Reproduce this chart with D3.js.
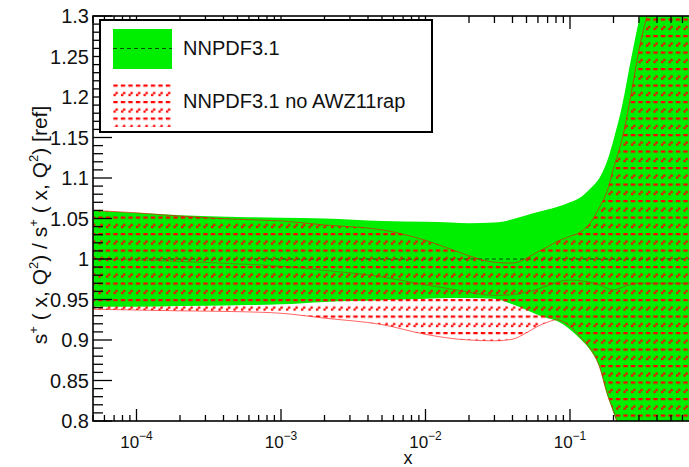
<!DOCTYPE html>
<html><head><meta charset="utf-8">
<script src="https://cdn.jsdelivr.net/npm/d3@7"></script>
<style>
html,body{margin:0;padding:0;background:#fff;}
svg{display:block;font-family:"Liberation Sans",Arial,Helvetica,sans-serif;}
</style></head>
<body>
<svg id="chart" width="689" height="467"></svg>
<script>
// ---- data ----
const xGrid = [5e-5, 1e-4, 2e-4, 5e-4, 1e-3, 2e-3, 5e-3, 1e-2, 1.5e-2, 2e-2, 3e-2, 4e-2, 5e-2, 6e-2, 7e-2, 8e-2, 1e-1, 1.2e-1, 1.4e-1, 1.6e-1, 1.8e-1, 2e-1, 2.3e-1, 2.6e-1, 3e-1, 4e-1, 6e-1, 1];
const greenUpper = [1.060, 1.057, 1.054, 1.052, 1.051, 1.050, 1.047, 1.046, 1.045, 1.044, 1.045, 1.049, 1.054, 1.058, 1.061, 1.064, 1.070, 1.077, 1.088, 1.100, 1.120, 1.147, 1.190, 1.240, 1.295, 1.40, 1.60, 2.00];
const greenLower = [0.941, 0.941, 0.942, 0.943, 0.944, 0.947, 0.949, 0.951, 0.952, 0.952, 0.951, 0.944, 0.937, 0.931, 0.927, 0.924, 0.913, 0.900, 0.886, 0.866, 0.833, 0.810, 0.775, 0.740, 0.70, 0.60, 0.40, 0.20];
const redUpper = [1.060, 1.057, 1.053, 1.049, 1.047, 1.042, 1.036, 1.023, 1.012, 1.004, 0.996, 0.995, 1.001, 1.009, 1.015, 1.021, 1.028, 1.034, 1.046, 1.064, 1.083, 1.112, 1.149, 1.196, 1.258, 1.35, 1.55, 1.90];
const redLower = [0.938, 0.937, 0.936, 0.935, 0.933, 0.927, 0.919, 0.907, 0.902, 0.900, 0.899, 0.901, 0.909, 0.917, 0.922, 0.925, 0.917, 0.902, 0.888, 0.867, 0.835, 0.812, 0.777, 0.73, 0.68, 0.58, 0.35, 0.10];
const redCentral = [1.000, 0.999, 0.997, 0.994, 0.991, 0.986, 0.978, 0.968, 0.963, 0.959, 0.955, 0.956, 0.959, 0.963, 0.967, 0.971, 0.974, 0.973, 0.971, 0.968, 0.964, 0.962, 0.965, 0.968, 0.970, 0.970, 0.970, 0.970];
const greenCentral = xGrid.map(() => 1.0);
const yTickLabels = ["0.8","0.85","0.9","0.95","1","1.05","1.1","1.15","1.2","1.25","1.3"];
const xTickExps = [-4, -3, -2, -1];
const legendLabels = ["NNPDF3.1", "NNPDF3.1 no AWZ11rap"];

// ---- layout ----
const svg = d3.select("#chart");
const L = 93, R = 714.5, T = 16, B = 421;
const x = d3.scaleLog().domain([5e-5, 1]).range([L, R]);
const y = d3.scaleLinear().domain([0.8, 1.3]).range([B, T]);
const GREEN = "#00ee00", RED = "#ff0000";

const defs = svg.append("defs");
defs.append("clipPath").attr("id","plotclip").append("rect")
  .attr("x", L).attr("y", T).attr("width", R - L).attr("height", B - T);
const pat = defs.append("pattern").attr("id","hatch").attr("patternUnits","userSpaceOnUse")
  .attr("width", 7.5).attr("height", 16.5).attr("x", 0).attr("y", 2);
pat.append("rect").attr("x",0.8).attr("y",0).attr("width",4.4).attr("height",2.2).attr("fill",RED);
pat.append("rect").attr("x",1.0).attr("y",9.4).attr("width",2.3).attr("height",2.3).attr("fill",RED);
pat.append("rect").attr("x",3.0).attr("y",7.4).attr("width",2.3).attr("height",2.3).attr("fill",RED);

const pts = (lo, hi) => xGrid.map((xv, i) => ({x: xv, lo: lo[i], hi: hi[i]}));
const area = d3.area().x(d => x(d.x)).y0(d => y(d.lo)).y1(d => y(d.hi)).curve(d3.curveMonotoneX);
const line = acc => d3.line().x(d => x(d.x)).y(d => y(acc(d))).curve(d3.curveMonotoneX);

const g = svg.append("g").attr("clip-path","url(#plotclip)");
const greenPts = pts(greenLower, greenUpper);
const redPts = pts(redLower, redUpper);

g.append("path").datum(greenPts).attr("d", area).attr("fill", GREEN);
g.append("path").datum(xGrid.map((xv,i)=>({x:xv, v:greenCentral[i]})))
  .attr("d", line(d=>d.v)).attr("fill","none").attr("stroke","#005000").attr("stroke-width",1.2).attr("stroke-dasharray","4,3");
g.append("path").datum(redPts).attr("d", area).attr("fill", "url(#hatch)");
g.append("path").datum(redPts).attr("d", line(d=>d.hi)).attr("fill","none").attr("stroke",RED).attr("stroke-width",1).attr("stroke-opacity",0.6);
g.append("path").datum(redPts).attr("d", line(d=>d.lo)).attr("fill","none").attr("stroke",RED).attr("stroke-width",1).attr("stroke-opacity",0.6);
g.append("path").datum(xGrid.map((xv,i)=>({x:xv, v:redCentral[i]})))
  .attr("d", line(d=>d.v)).attr("fill","none").attr("stroke","#b03010").attr("stroke-width",1).attr("stroke-opacity",0.5);

// ---- axes / frame ----
const ax = svg.append("g").attr("stroke","#000").attr("fill","none");
ax.append("rect").attr("x",L).attr("y",T).attr("width",R-L).attr("height",B-T).attr("stroke-width",1.6);

const yMinor = d3.range(80, 131, 1).map(v => v / 100);
yMinor.forEach(v => {
  const major = Math.round(v * 100) % 5 === 0;
  const len = major ? 19 : 10;
  ax.append("line").attr("x1",L).attr("x2",L+len).attr("y1",y(v)).attr("y2",y(v)).attr("stroke-width",1.3);
  ax.append("line").attr("x1",R).attr("x2",R-len).attr("y1",y(v)).attr("y2",y(v)).attr("stroke-width",1.3);
});
const xTicksAll = [];
for (let e = -5; e <= 0; e++) for (let m = 1; m <= 9; m++) {
  const v = m * Math.pow(10, e);
  if (v >= 5e-5 * 0.999 && v <= 1.0001) xTicksAll.push({v, major: m === 1});
}
xTicksAll.forEach(t => {
  const len = t.major ? 12 : 6;
  ax.append("line").attr("x1",x(t.v)).attr("x2",x(t.v)).attr("y1",B).attr("y2",B-len).attr("stroke-width",1.3);
  ax.append("line").attr("x1",x(t.v)).attr("x2",x(t.v)).attr("y1",T).attr("y2",T+(t.major?13:7)).attr("stroke-width",1.3);
});

const tl = svg.append("g").attr("fill","#111").attr("font-size",20);
yTickLabels.forEach(s => {
  tl.append("text").attr("x",89).attr("y",y(+s)).attr("dy","0.36em").attr("text-anchor","end").text(s);
});
xTickExps.forEach(e => {
  const t = tl.append("text").attr("x", x(Math.pow(10,e))).attr("y",448).attr("text-anchor","middle").attr("font-size",17);
  t.append("tspan").text("10");
  t.append("tspan").attr("font-size",12).attr("dy",-8).text("\u2212" + Math.abs(e));
});
tl.append("text").attr("x",408).attr("y",464).attr("text-anchor","middle").attr("font-size",18).text("x");
const yt = tl.append("text").attr("transform","translate(47,225) rotate(-90)").attr("text-anchor","middle").attr("font-size",21);
yt.append("tspan").text("s");
yt.append("tspan").attr("font-size",13).attr("dy",-9).text("+");
yt.append("tspan").attr("dy",9).text(" ( x, Q");
yt.append("tspan").attr("font-size",13).attr("dy",-9).text("2");
yt.append("tspan").attr("dy",9).text(") / s");
yt.append("tspan").attr("font-size",13).attr("dy",-9).text("+");
yt.append("tspan").attr("dy",9).text(" ( x, Q");
yt.append("tspan").attr("font-size",13).attr("dy",-9).text("2");
yt.append("tspan").attr("dy",9).text(") [ref]");

// ---- legend ----
const lg = svg.append("g");
lg.append("rect").attr("x",100).attr("y",20).attr("width",332).attr("height",112)
  .attr("fill","#fff").attr("stroke","#000").attr("stroke-width",2);
lg.append("rect").attr("x",113).attr("y",29).attr("width",59).attr("height",40).attr("fill",GREEN);
lg.append("line").attr("x1",113).attr("x2",172).attr("y1",48.5).attr("y2",48.5)
  .attr("stroke","#005000").attr("stroke-width",1.2).attr("stroke-dasharray","4,3");
lg.append("rect").attr("x",113).attr("y",83).attr("width",59).attr("height",44).attr("fill","url(#hatch)");
lg.append("text").attr("x",183).attr("y",55).attr("font-size",20).attr("fill","#111").text(legendLabels[0]);
lg.append("text").attr("x",183).attr("y",108).attr("font-size",20).attr("fill","#111").text(legendLabels[1]);
</script>
</body></html>
